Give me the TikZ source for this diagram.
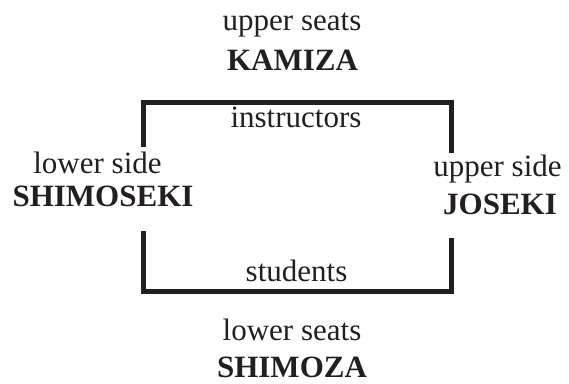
\documentclass[tikz,border=0pt]{standalone}
\usepackage{fontspec}
\setmainfont{Liberation Serif}
\definecolor{ink}{HTML}{231F20}
\begin{document}
\begin{tikzpicture}[x=1pt,y=-1pt,
  lbl/.style={anchor=base,inner sep=0pt,text=ink,font=\fontsize{31}{37}\selectfont},
  blbl/.style={lbl,font=\fontsize{31}{37}\selectfont\bfseries},
  frame/.style={draw=ink,line width=5pt,line join=miter,line cap=butt}]
\useasboundingbox (0,0) rectangle (569,383);
% frame corners
\coordinate (tl) at (143.5,102);
\coordinate (tr) at (451,102);
\coordinate (bl) at (143.5,291);
\coordinate (br) at (451,291);
\coordinate (lt) at (143.5,146.7);
\coordinate (rt) at (451,153.3);
\coordinate (lb) at (143.5,231);
\coordinate (rb) at (451,237.7);
\draw[frame] (lt) -- (tl) -- (tr) -- (rt);
\draw[frame] (lb) -- (bl) -- (br) -- (rb);
% labels
\node[lbl] (us) at (292,30) {upper seats};
\node[blbl] (kamiza) at (292.5,70) {KAMIZA};
\node[lbl] (instr) at (296,127.7) {instructors};
\node[lbl] (stud) at (296.5,281.7) {students};
\node[lbl] (ls) at (292,340.7) {lower seats};
\node[blbl] (shimoza) at (292,377.5) {SHIMOZA};
\node[lbl] (lside) at (97.5,173) {lower side};
\node[blbl] (shimoseki) at (103,206.7) {SHIMOSEKI};
\node[lbl] (uside) at (497.5,176.7) {upper side};
\node[blbl] (joseki) at (500,214) {JOSEKI};
\end{tikzpicture}
\end{document}
